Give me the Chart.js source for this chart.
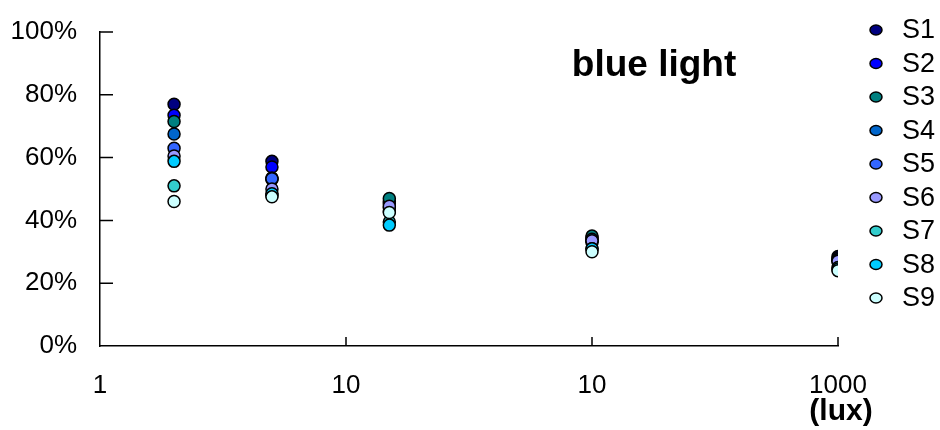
<!DOCTYPE html>
<html>
<head>
<meta charset="utf-8">
<script src="https://cdn.jsdelivr.net/npm/chart.js@4.4.1/dist/chart.umd.min.js"></script>
<style>
  html, body { margin: 0; padding: 0; background: #fff; }
  #wrap { width: 940px; height: 430px; }
</style>
</head>
<body>
<div id="wrap"><canvas id="chart" width="940" height="430"></canvas></div>
<script>
// ── data ──
const LUX = [2, 5, 15, 100, 1000];
const X_TICKS = [1, 10, 100, 1000];
const X_TICK_LABELS = ['1', '10', '10', '1000'];
const Y_TICKS = [0, 20, 40, 60, 80, 100];

const SERIES_NAMES = ['S1', 'S2', 'S3', 'S4', 'S5', 'S6', 'S7', 'S8', 'S9'];
const S1 = [77.0, 58.8, 46.0, 34.5, 28.5];
const S2 = [73.5, 57.0, 45.5, 33.5, 28.0];
const S3 = [71.5, 53.5, 47.0, 35.0, 27.5];
const S4 = [67.5, 53.0, 44.0, 34.0, 27.5];
const S5 = [63.0, 53.3, 43.0, 33.0, 27.0];
const S6 = [60.5, 50.0, 44.5, 33.5, 27.0];
const S7 = [51.0, 48.0, 39.5, 31.0, 25.0];
const S8 = [58.8, 48.5, 38.5, 31.0, 24.5];
const S9 = [46.0, 47.5, 42.5, 30.0, 24.0];
const SERIES_VALUES = [S1, S2, S3, S4, S5, S6, S7, S8, S9];
const SERIES_COLORS = ['#000080', '#0000FF', '#008080', '#0066CC', '#3366FF',
                       '#9999FF', '#33CCCC', '#00CCFF', '#CCFFFF'];

const FONT = "'Liberation Sans', Arial, sans-serif";

// ── extra drawing: inward ticks, legend, labels ──
const decorations = {
  id: 'decorations',
  afterDraw(chart) {
    const ctx = chart.ctx;
    const xs = chart.scales.x, ys = chart.scales.y;
    const area = chart.chartArea;
    ctx.save();
    ctx.strokeStyle = '#000';
    ctx.lineWidth = 1.5;
    ctx.beginPath();
    ys.ticks.forEach(t => {
      if (t.value === 0) return;
      const py = ys.getPixelForValue(t.value);
      ctx.moveTo(area.left, py);
      ctx.lineTo(area.left + 13, py);
    });
    xs.ticks.forEach(t => {
      if (t.value === 1) return;
      const px = xs.getPixelForValue(t.value);
      ctx.moveTo(px, area.bottom);
      ctx.lineTo(px, area.bottom - 9);
    });
    ctx.stroke();

    // legend
    ctx.font = '27px ' + FONT;
    ctx.textBaseline = 'middle';
    ctx.textAlign = 'left';
    SERIES_NAMES.forEach((name, i) => {
      const cy = 30 + i * 33.5;
      ctx.beginPath();
      ctx.ellipse(876, cy, 6, 5, 0, 0, Math.PI * 2);
      ctx.fillStyle = SERIES_COLORS[i];
      ctx.fill();
      ctx.lineWidth = 1.5;
      ctx.stroke();
      ctx.fillStyle = '#000';
      ctx.fillText(name, 902, cy + 1);
    });

    // title inside plot
    ctx.font = 'bold 37px ' + FONT;
    ctx.textAlign = 'center';
    ctx.fillText('blue light', 654, 66);

    // unit under the last tick
    ctx.font = 'bold 30px ' + FONT;
    ctx.fillText('(lux)', 841, 412);
    ctx.restore();
  }
};

new Chart(document.getElementById('chart'), {
  type: 'scatter',
  data: {
    datasets: SERIES_NAMES.map((name, i) => ({
      label: name,
      data: LUX.map((x, j) => ({ x, y: SERIES_VALUES[i][j] })),
      backgroundColor: SERIES_COLORS[i],
      borderColor: '#000',
      borderWidth: 1.5,
      pointRadius: 6,
      order: SERIES_NAMES.length - 1 - i,
    })),
  },
  options: {
    responsive: false,
    animation: false,
    layout: { padding: { top: 32, right: 102, bottom: 0, left: 0 } },
    plugins: {
      legend: { display: false },
      tooltip: { enabled: false },
    },
    scales: {
      x: {
        type: 'logarithmic',
        min: 1,
        max: 1000,
        afterBuildTicks: s => { s.ticks = X_TICKS.map(v => ({ value: v })); },
        afterFit: s => { s.height = 84; },
        grid: { display: false },
        border: { display: true, color: '#000', width: 1.5 },
        ticks: {
          color: '#000',
          font: { family: FONT, size: 26 },
          padding: 16,
          maxRotation: 0,
          autoSkip: false,
          callback: (v, i) => X_TICK_LABELS[i],
        },
      },
      y: {
        min: 0,
        max: 100,
        afterBuildTicks: s => { s.ticks = Y_TICKS.map(v => ({ value: v })); },
        afterFit: s => { s.width = 100; },
        grid: { display: false },
        border: { display: true, color: '#000', width: 1.5 },
        ticks: {
          color: '#000',
          font: { family: FONT, size: 26 },
          padding: 15,
          callback: v => v + '%',
        },
      },
    },
  },
  plugins: [decorations],
});
</script>
</body>
</html>
